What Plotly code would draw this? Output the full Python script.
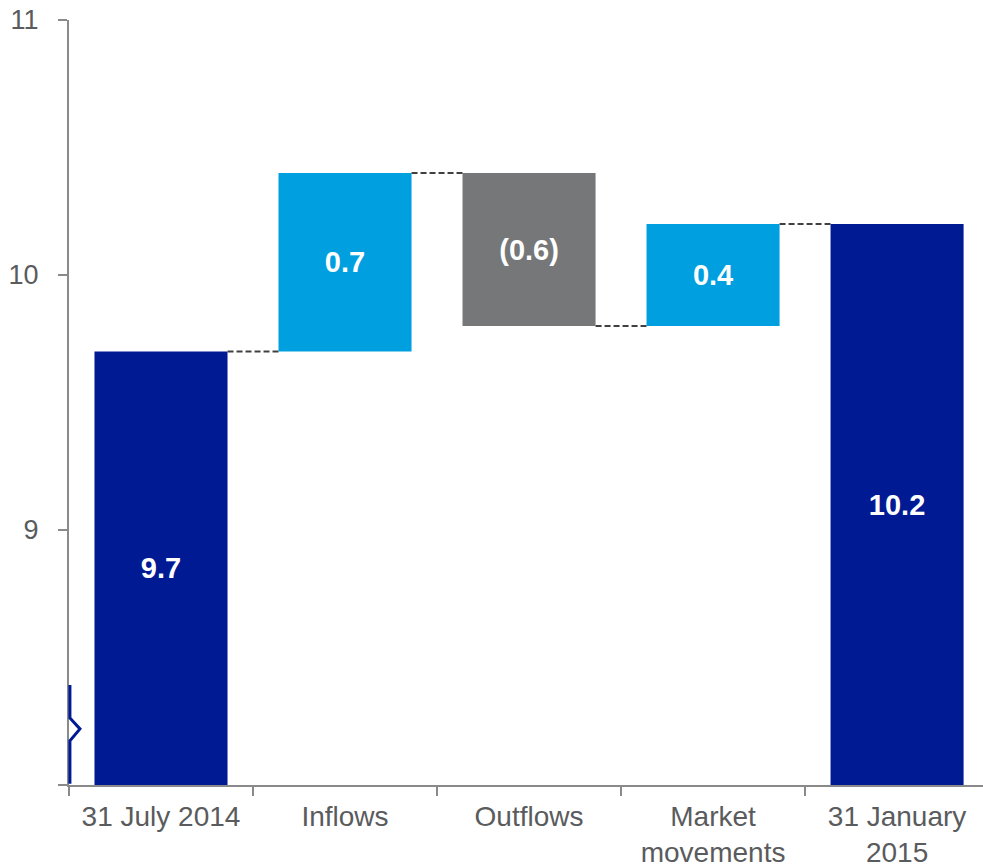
import plotly.graph_objects as go

categories = ["31 July 2014", "Inflows", "Outflows", "Market<br>movements", "31 January<br>2015"]
values = [9.7, 0.7, -0.6, 0.4, 10.2]
labels = ["9.7", "0.7", "(0.6)", "0.4", "10.2"]
kinds = ["total", "delta", "delta", "delta", "total"]
axis_floor = 8.0

NAVY = "#001A94"
BLUE = "#00A0E0"
GREY = "#767779"
TEXT = "#5A5B5D"
AXIS = "#8A8A8A"

# compute bases and heights
bases, heights, colors, tops = [], [], [], []
level = 0.0
for v, k in zip(values, kinds):
    if k == "total":
        bases.append(axis_floor)
        heights.append(v - axis_floor)
        colors.append(NAVY)
        level = v
    else:
        start = level
        level = level + v
        bases.append(min(start, level))
        heights.append(abs(v))
        colors.append(BLUE if v >= 0 else GREY)
    tops.append(level)

bar_w = 0.723

fig = go.Figure()
fig.add_trace(go.Bar(
    x=categories, y=heights, base=bases, width=bar_w,
    marker=dict(color=colors, line=dict(width=0)),
    text=labels, textposition="inside", insidetextanchor="middle",
    textfont=dict(family="Liberation Sans, Arial", size=29, color="white", weight="bold"),
    textangle=0, hoverinfo="skip",
))

shapes = []
for i in range(len(categories) - 1):
    shapes.append(dict(
        type="line", xref="x", yref="y",
        x0=i + bar_w / 2, x1=i + 1 - bar_w / 2, y0=tops[i], y1=tops[i],
        line=dict(color="#404040", width=2, dash="6px,3px"),
    ))

# axis break symbol
brk_top, brk_a, brk_mid, brk_b, brk_bot = 8.392, 8.263, 8.22, 8.173, 8.005
shapes.append(dict(
    type="path", xref="paper", yref="y",
    path=f"M 0.001 {brk_top} L 0.001 {brk_a} L 0.012 {brk_mid} L 0.001 {brk_b} L 0.001 {brk_bot}",
    line=dict(color=NAVY, width=3),
))

fig.update_layout(
    width=983, height=867,
    margin=dict(l=69, r=0, t=20, b=82),
    plot_bgcolor="white", paper_bgcolor="white",
    showlegend=False,
    shapes=shapes,
    font=dict(family="Liberation Sans, Arial", color=TEXT, size=28),
    xaxis=dict(
        type="category", range=[-0.5, 4.467], automargin=False,
        tickson="boundaries", ticks="outside", ticklen=9, tickcolor=AXIS, tickwidth=2,
        showline=True, linecolor=AXIS, linewidth=2,
        showgrid=False, tickfont=dict(size=28, color=TEXT),
        ticklabelstandoff=5,
    ),
    yaxis=dict(
        range=[8, 11], tickvals=[8, 9, 10, 11], ticktext=["", "9", "10", "11"],
        automargin=False,
        ticks="outside", ticklen=9, tickcolor=AXIS, tickwidth=2,
        showline=True, linecolor=AXIS, linewidth=2,
        showgrid=False, zeroline=False, tickfont=dict(size=27, color=TEXT),
        ticklabelstandoff=14,
    ),
    bargap=0.28,
)

fig.write_html("out.html")
